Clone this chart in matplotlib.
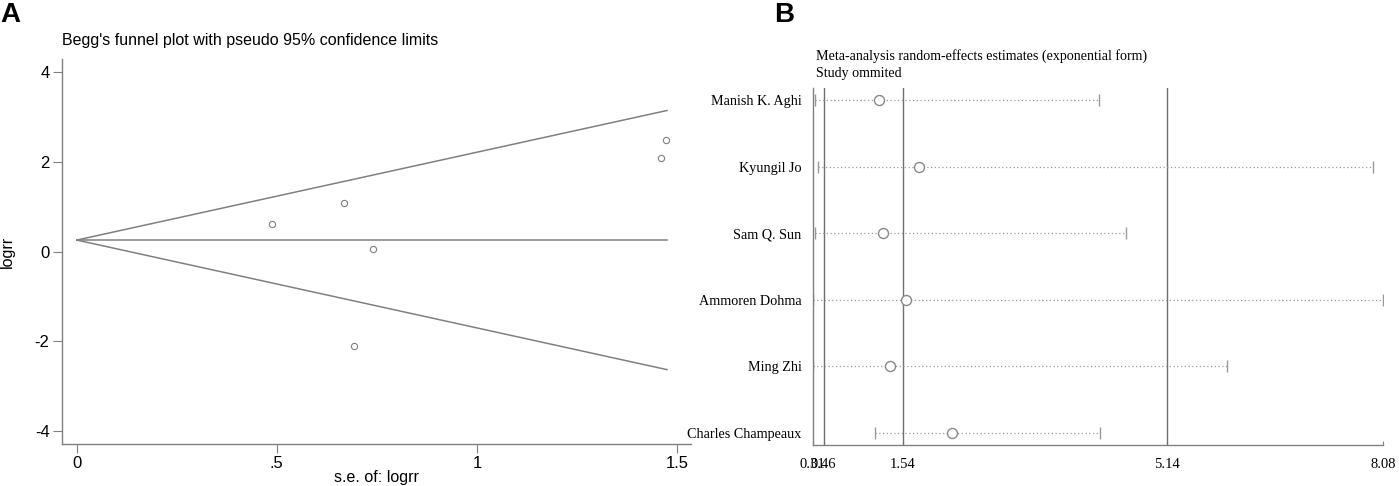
import numpy as np
import matplotlib
matplotlib.use("Agg")
import matplotlib.pyplot as plt

plt.rcParams["axes.unicode_minus"] = False

# Panel A: Begg's funnel plot
se_logrr = [0.489, 0.667, 0.741, 0.693, 1.459, 1.473]
logrr = [0.625, 1.08, 0.067, -2.11, 2.09, 2.50]
pooled_logrr = 0.26
se_max = 1.475
funnel_xticks = [0, 0.5, 1, 1.5]
funnel_xticklabels = ["0", ".5", "1", "1.5"]
funnel_yticks = [-4, -2, 0, 2, 4]

# Panel B: leave-one-out sensitivity analysis
studies = ["Manish K. Aghi", "Kyungil Jo", "Sam Q. Sun",
           "Ammoren Dohma", "Ming Zhi", "Charles Champeaux"]
estimate = [1.21, 1.76, 1.27, 1.585, 1.37, 2.21]
ci_low = [0.35, 0.39, 0.35, 0.31, 0.32, 1.16]
ci_high = [4.215, 7.95, 4.58, 8.08, 5.96, 4.23]
ref_lines = [0.46, 1.54, 5.14]
sens_ticks = [0.31, 0.46, 1.54, 5.14, 8.08]

W, H = 1399, 486
fig = plt.figure(figsize=(W / 100, H / 100), dpi=100)

gray = "#808080"
sans = ["Liberation Sans", "DejaVu Sans"]
serif = ["Liberation Serif", "DejaVu Serif"]

# ---------- A ----------
axA = fig.add_axes([62 / W, 1 - 444 / H, (691 - 62) / W, (444 - 59) / H])
se_line = np.array([0, se_max])
axA.plot(se_line, pooled_logrr + 1.96 * se_line, color=gray, lw=1.1)
axA.plot(se_line, pooled_logrr - 1.96 * se_line, color=gray, lw=1.1)
axA.plot(se_line, [pooled_logrr, pooled_logrr], color=gray, lw=1.1)
axA.plot(se_logrr, logrr, linestyle="none", marker="o", markersize=4.5,
         markerfacecolor="none", markeredgecolor=gray, markeredgewidth=0.8)
axA.set_xlim(-0.037, 1.535)
axA.set_ylim(-4.29, 4.30)
axA.set_xticks(funnel_xticks)
axA.set_xticklabels(funnel_xticklabels)
axA.set_yticks(funnel_yticks)
for s in ["top", "right"]:
    axA.spines[s].set_visible(False)
for s in ["left", "bottom"]:
    axA.spines[s].set_color(gray)
    axA.spines[s].set_linewidth(1.0)
axA.tick_params(direction="out", length=6.5, width=0.8, color=gray,
                labelsize=12, pad=2.5)
for lab in axA.get_xticklabels() + axA.get_yticklabels():
    lab.set_family(sans)
axA.set_xlabel("s.e. of: logrr", fontsize=11.5, family=sans, labelpad=-1)
axA.set_ylabel("logrr", fontsize=11.5, family=sans, labelpad=14)

fig.text(62 / W, 1 - 40 / H, "Begg's funnel plot with pseudo 95% confidence limits",
         fontsize=11.5, family=sans, va="center", ha="left")
fig.text(0 / W, 1 - 15 / H, "A", fontsize=20, fontweight="bold", family=sans,
         va="center", ha="left")

# ---------- B ----------
axB = fig.add_axes([812.5 / W, 1 - 445 / H, (1383 - 812.5) / W, (445 - 88) / H])
rows = np.arange(len(studies))
for x in ref_lines:
    axB.axvline(x, color="#707070", lw=1.0)
axB.hlines(rows, ci_low, ci_high, colors="#999999", linestyles=(0, (1, 2)), lw=0.9)
axB.plot(ci_low, rows, linestyle="none", marker="|", markersize=8,
         markeredgecolor="#999999", markeredgewidth=1.0)
axB.plot(ci_high, rows, linestyle="none", marker="|", markersize=8,
         markeredgecolor="#999999", markeredgewidth=1.0)
axB.plot(estimate, rows, linestyle="none", marker="o", markersize=7.2,
         markerfacecolor="white", markeredgecolor="#888888", markeredgewidth=1.0)
axB.set_xlim(0.31, 8.08)
axB.set_ylim(len(studies) - 1 + 0.18, -0.18)
axB.set_yticks(rows)
axB.set_yticklabels(studies)
axB.set_xticks(sens_ticks)
axB.set_xticklabels([f"{t:.2f}" for t in sens_ticks])
for s in ["top", "right"]:
    axB.spines[s].set_visible(False)
for s in ["left", "bottom"]:
    axB.spines[s].set_color(gray)
    axB.spines[s].set_linewidth(1.0)
axB.tick_params(axis="y", length=0, pad=8, labelsize=10.2)
axB.tick_params(axis="x", direction="in", length=3, color=gray, labelsize=10.5, pad=9)
for lab in axB.get_xticklabels() + axB.get_yticklabels():
    lab.set_family(serif)

fig.text(816 / W, 1 - 56 / H,
         "Meta-analysis random-effects estimates (exponential form)",
         fontsize=10.1, family=serif, va="center", ha="left")
fig.text(816 / W, 1 - 74 / H, "Study ommited",
         fontsize=10.1, family=serif, va="center", ha="left")
fig.text(774 / W, 1 - 15 / H, "B", fontsize=20, fontweight="bold", family=sans,
         va="center", ha="left")

fig.savefig("out.png", dpi=100)
